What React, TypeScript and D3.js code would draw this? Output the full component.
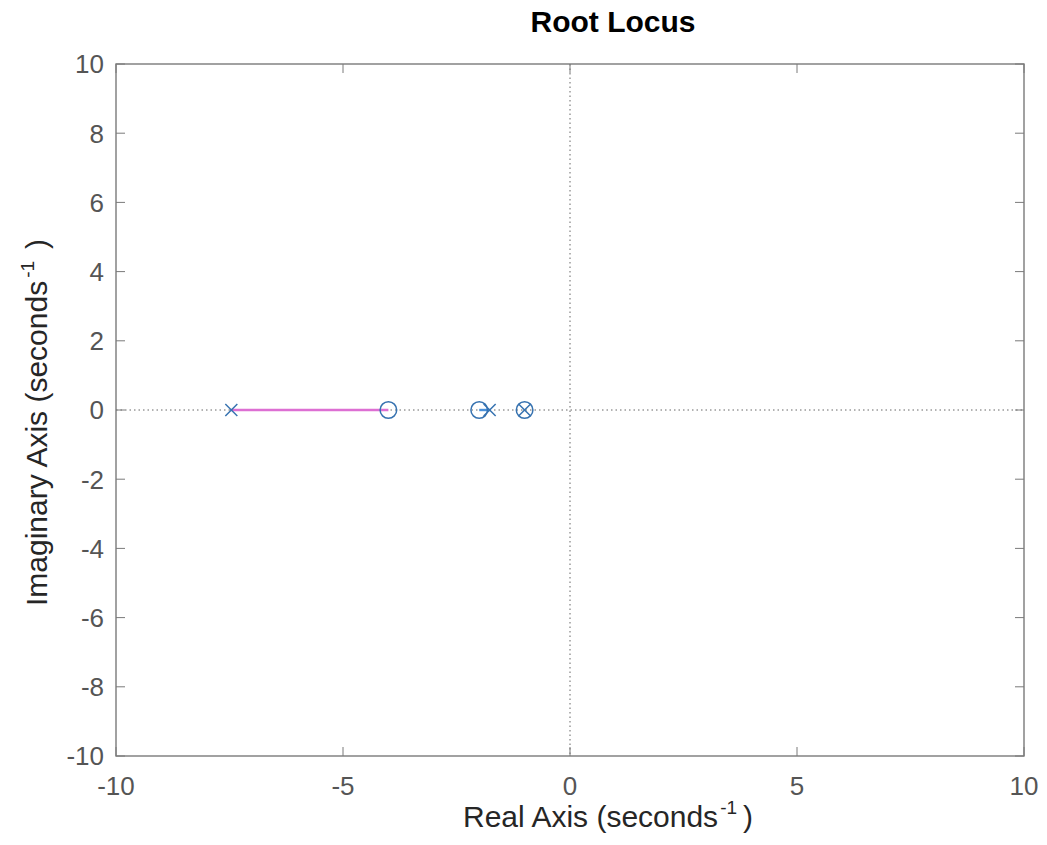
import React from "react";
import * as d3 from "d3";

const xTicks = [-10, -5, 0, 5, 10];
const yTicks = [-10, -8, -6, -4, -2, 0, 2, 4, 6, 8, 10];
const poles = [-7.46, -1.77, -1];
const zeros = [-4, -2, -1];
const locusSegments = [
  { from: -7.46, to: -4, color: "#dd6fd3" },
  { from: -1.77, to: -2, color: "#4a90d9" },
];

const W = 1047, H = 845;
const M = { left: 116, top: 64, right: 1024, bottom: 756 };

export default function App() {
  const x = d3.scaleLinear().domain([-10, 10]).range([M.left, M.right]);
  const y = d3.scaleLinear().domain([-10, 10]).range([M.bottom, M.top]);
  const tickColor = "#555";
  const frameColor = "#7a7a7a";
  const font = "'Liberation Sans', Arial, Helvetica, sans-serif";
  const tl = 9;
  const tfs = 26;
  const line = d3.line<[number, number]>().x(d => x(d[0])).y(d => y(d[1]));
  const markerColor = "#3672b0";
  return (
    <svg width={W} height={H} style={{ position: "absolute", left: 0, top: 0, background: "#fff" }} fontFamily={font}>
      <rect x={0} y={0} width={W} height={H} fill="#fff" />
      {/* zero axes */}
      <line x1={x(-10)} x2={x(10)} y1={y(0)} y2={y(0)} stroke="#666" strokeWidth={1} strokeDasharray="1.5 3" />
      <line x1={x(0)} x2={x(0)} y1={y(10)} y2={y(-10)} stroke="#666" strokeWidth={1} strokeDasharray="1.5 3" />
      {/* locus */}
      {locusSegments.map((s, i) => (
        <path key={i} d={line([[s.from, 0], [s.to, 0]]) || ""} stroke={s.color} strokeWidth={2.4} fill="none" />
      ))}
      {/* zeros */}
      {zeros.map((z, i) => (
        <circle key={i} cx={x(z)} cy={y(0)} r={8.3} fill="none" stroke={markerColor} strokeWidth={1.5} />
      ))}
      {/* poles */}
      {poles.map((p, i) => (
        <g key={i} stroke={markerColor} strokeWidth={1.5}>
          <line x1={x(p) - 6} x2={x(p) + 6} y1={y(0) - 6} y2={y(0) + 6} />
          <line x1={x(p) - 6} x2={x(p) + 6} y1={y(0) + 6} y2={y(0) - 6} />
        </g>
      ))}
      {/* frame */}
      <rect x={M.left} y={M.top} width={M.right - M.left} height={M.bottom - M.top} fill="none" stroke={frameColor} strokeWidth={1.4} />
      {xTicks.map(t => (
        <g key={"x" + t}>
          <line x1={x(t)} x2={x(t)} y1={M.bottom} y2={M.bottom - tl} stroke={frameColor} />
          <line x1={x(t)} x2={x(t)} y1={M.top} y2={M.top + tl} stroke={frameColor} />
          <text x={x(t)} y={795} textAnchor="middle" fontSize={tfs} fill={tickColor}>{t}</text>
        </g>
      ))}
      {yTicks.map(t => (
        <g key={"y" + t}>
          <line x1={M.left} x2={M.left + tl} y1={y(t)} y2={y(t)} stroke={frameColor} />
          <line x1={M.right} x2={M.right - tl} y1={y(t)} y2={y(t)} stroke={frameColor} />
          <text x={104} y={y(t) + tfs * 0.36} textAnchor="end" fontSize={tfs} fill={tickColor}>{t}</text>
        </g>
      ))}
      <text x={613} y={32} textAnchor="middle" fontSize={30} fontWeight="bold" fill="#000">Root Locus</text>
      <text x={463} y={827} textAnchor="start" fontSize={30} fill="#262626">
        Real Axis (seconds<tspan dx={2} dy={-13} fontSize={19}>-1</tspan><tspan dx={6} dy={13}>)</tspan>
      </text>
      <text transform={`translate(47,606) rotate(-90)`} textAnchor="start" fontSize={30} fill="#262626">
        Imaginary Axis (seconds<tspan dx={3} dy={-13} fontSize={19}>-1</tspan><tspan dx={12} dy={13}>)</tspan>
      </text>
    </svg>
  );
}
